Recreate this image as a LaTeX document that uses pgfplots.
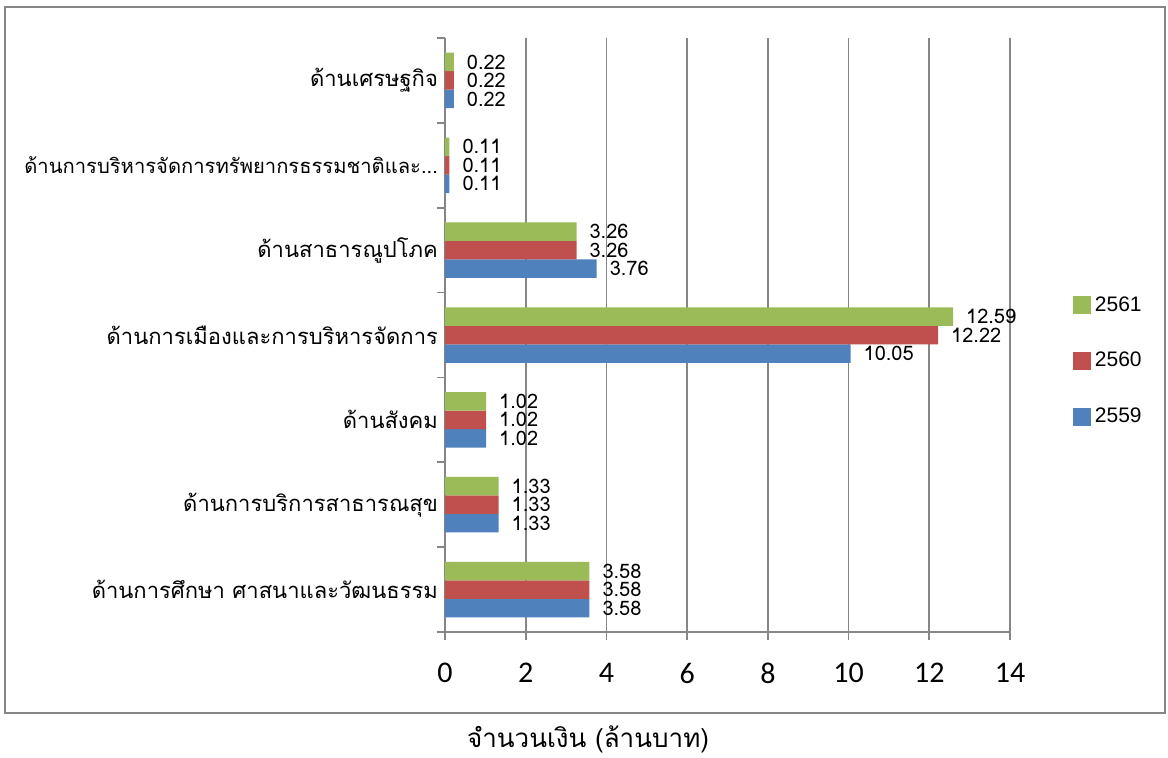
\documentclass[border=0pt]{standalone}
\usepackage{fontspec}
\usepackage{pgfplots}
\pgfplotsset{compat=1.18}
\newfontfamily\thaifont[Script=Thai]{Loma}
\newfontfamily\tickfont{Carlito}
\newfontfamily\legfont{Liberation Sans}
\definecolor{c59}{HTML}{4F81BD}
\definecolor{c60}{HTML}{C0504D}
\definecolor{c61}{HTML}{9BBB59}
\definecolor{axgray}{HTML}{868686}
\protected\def\tdots{.\kern0pt.\kern0pt.}
\begin{document}
\begin{tikzpicture}
\useasboundingbox (0,0) rectangle (584pt,-379pt);
\draw[axgray, line width=0.8pt] (2.5pt,-3.5pt) rectangle (582.5pt,-356.5pt);
\begin{axis}[
  at={(222.5pt,-316pt)}, anchor=south west,
  scale only axis, width=282.5pt, height=297pt,
  xbar, bar width=0.218,
  xmin=0, xmax=14, ymin=-0.5, ymax=6.5,
  xtick={0,2,...,14},
  ytick={-0.5,0.5,...,6.5},
  yticklabels={},
  extra y ticks={0,1,2,3,4,5,6},
  extra y tick labels={{ด้านการศึกษา ศาสนาและวัฒนธรรม},{ด้านการบริการสาธารณสุข},{ด้านสังคม},{ด้านการเมืองและการบริหารจัดการ},{ด้านสาธารณูปโภค},{\fontsize{10.1}{12}\selectfont ด้านการบริหารจัดการทรัพยากรธรรมชาติและ\tdots},{ด้านเศรษฐกิจ}},
  extra y tick style={major tick length=0pt, tick style={draw=none}},
  axis x line*=bottom, axis y line*=left,
  tick align=outside, major tick length=4pt,
  axis line style={axgray, line width=0.8pt},
  tick style={axgray, line width=0.8pt},
  xmajorgrids, grid style={axgray, line width=0.8pt},
  /pgf/number format/assume math mode=true,
  xticklabel style={font=\tickfont\fontsize{15}{17}\selectfont, yshift=-8pt},
  yticklabel style={font=\thaifont\fontsize{11}{13}\selectfont},
  point meta=x,
  nodes near coords={\pgfmathprintnumber[fixed,fixed zerofill,precision=2]{\pgfplotspointmeta}},
  nodes near coords style={font=\thaifont\fontsize{10}{12}\selectfont, anchor=west, xshift=3pt, text=black},
  legend style={at={(axis description cs:1.10,0.456)}, anchor=west, draw=none, fill=none,
    font=\legfont\fontsize{10.5}{12}\selectfont, row sep=15pt},
  legend cell align=left,
  reverse legend,
  legend image code/.code={\fill[#1,draw=none] (0pt,-4.5pt) rectangle (9pt,4.5pt);},
]
\addplot[fill=c59, draw=none, bar shift=-0.218] coordinates {(3.58,0) (1.33,1) (1.02,2) (10.05,3) (3.76,4) (0.11,5) (0.22,6)};
\addplot[fill=c60, draw=none, bar shift=0] coordinates {(3.58,0) (1.33,1) (1.02,2) (12.22,3) (3.26,4) (0.11,5) (0.22,6)};
\addplot[fill=c61, draw=none, bar shift=0.218] coordinates {(3.58,0) (1.33,1) (1.02,2) (12.59,3) (3.26,4) (0.11,5) (0.22,6)};
\legend{2559,2560,2561}
\end{axis}
\node[font=\thaifont\fontsize{13}{15}\selectfont] at (294pt,-369.5pt) {จำนวนเงิน (ล้านบาท)};
\end{tikzpicture}
\end{document}
